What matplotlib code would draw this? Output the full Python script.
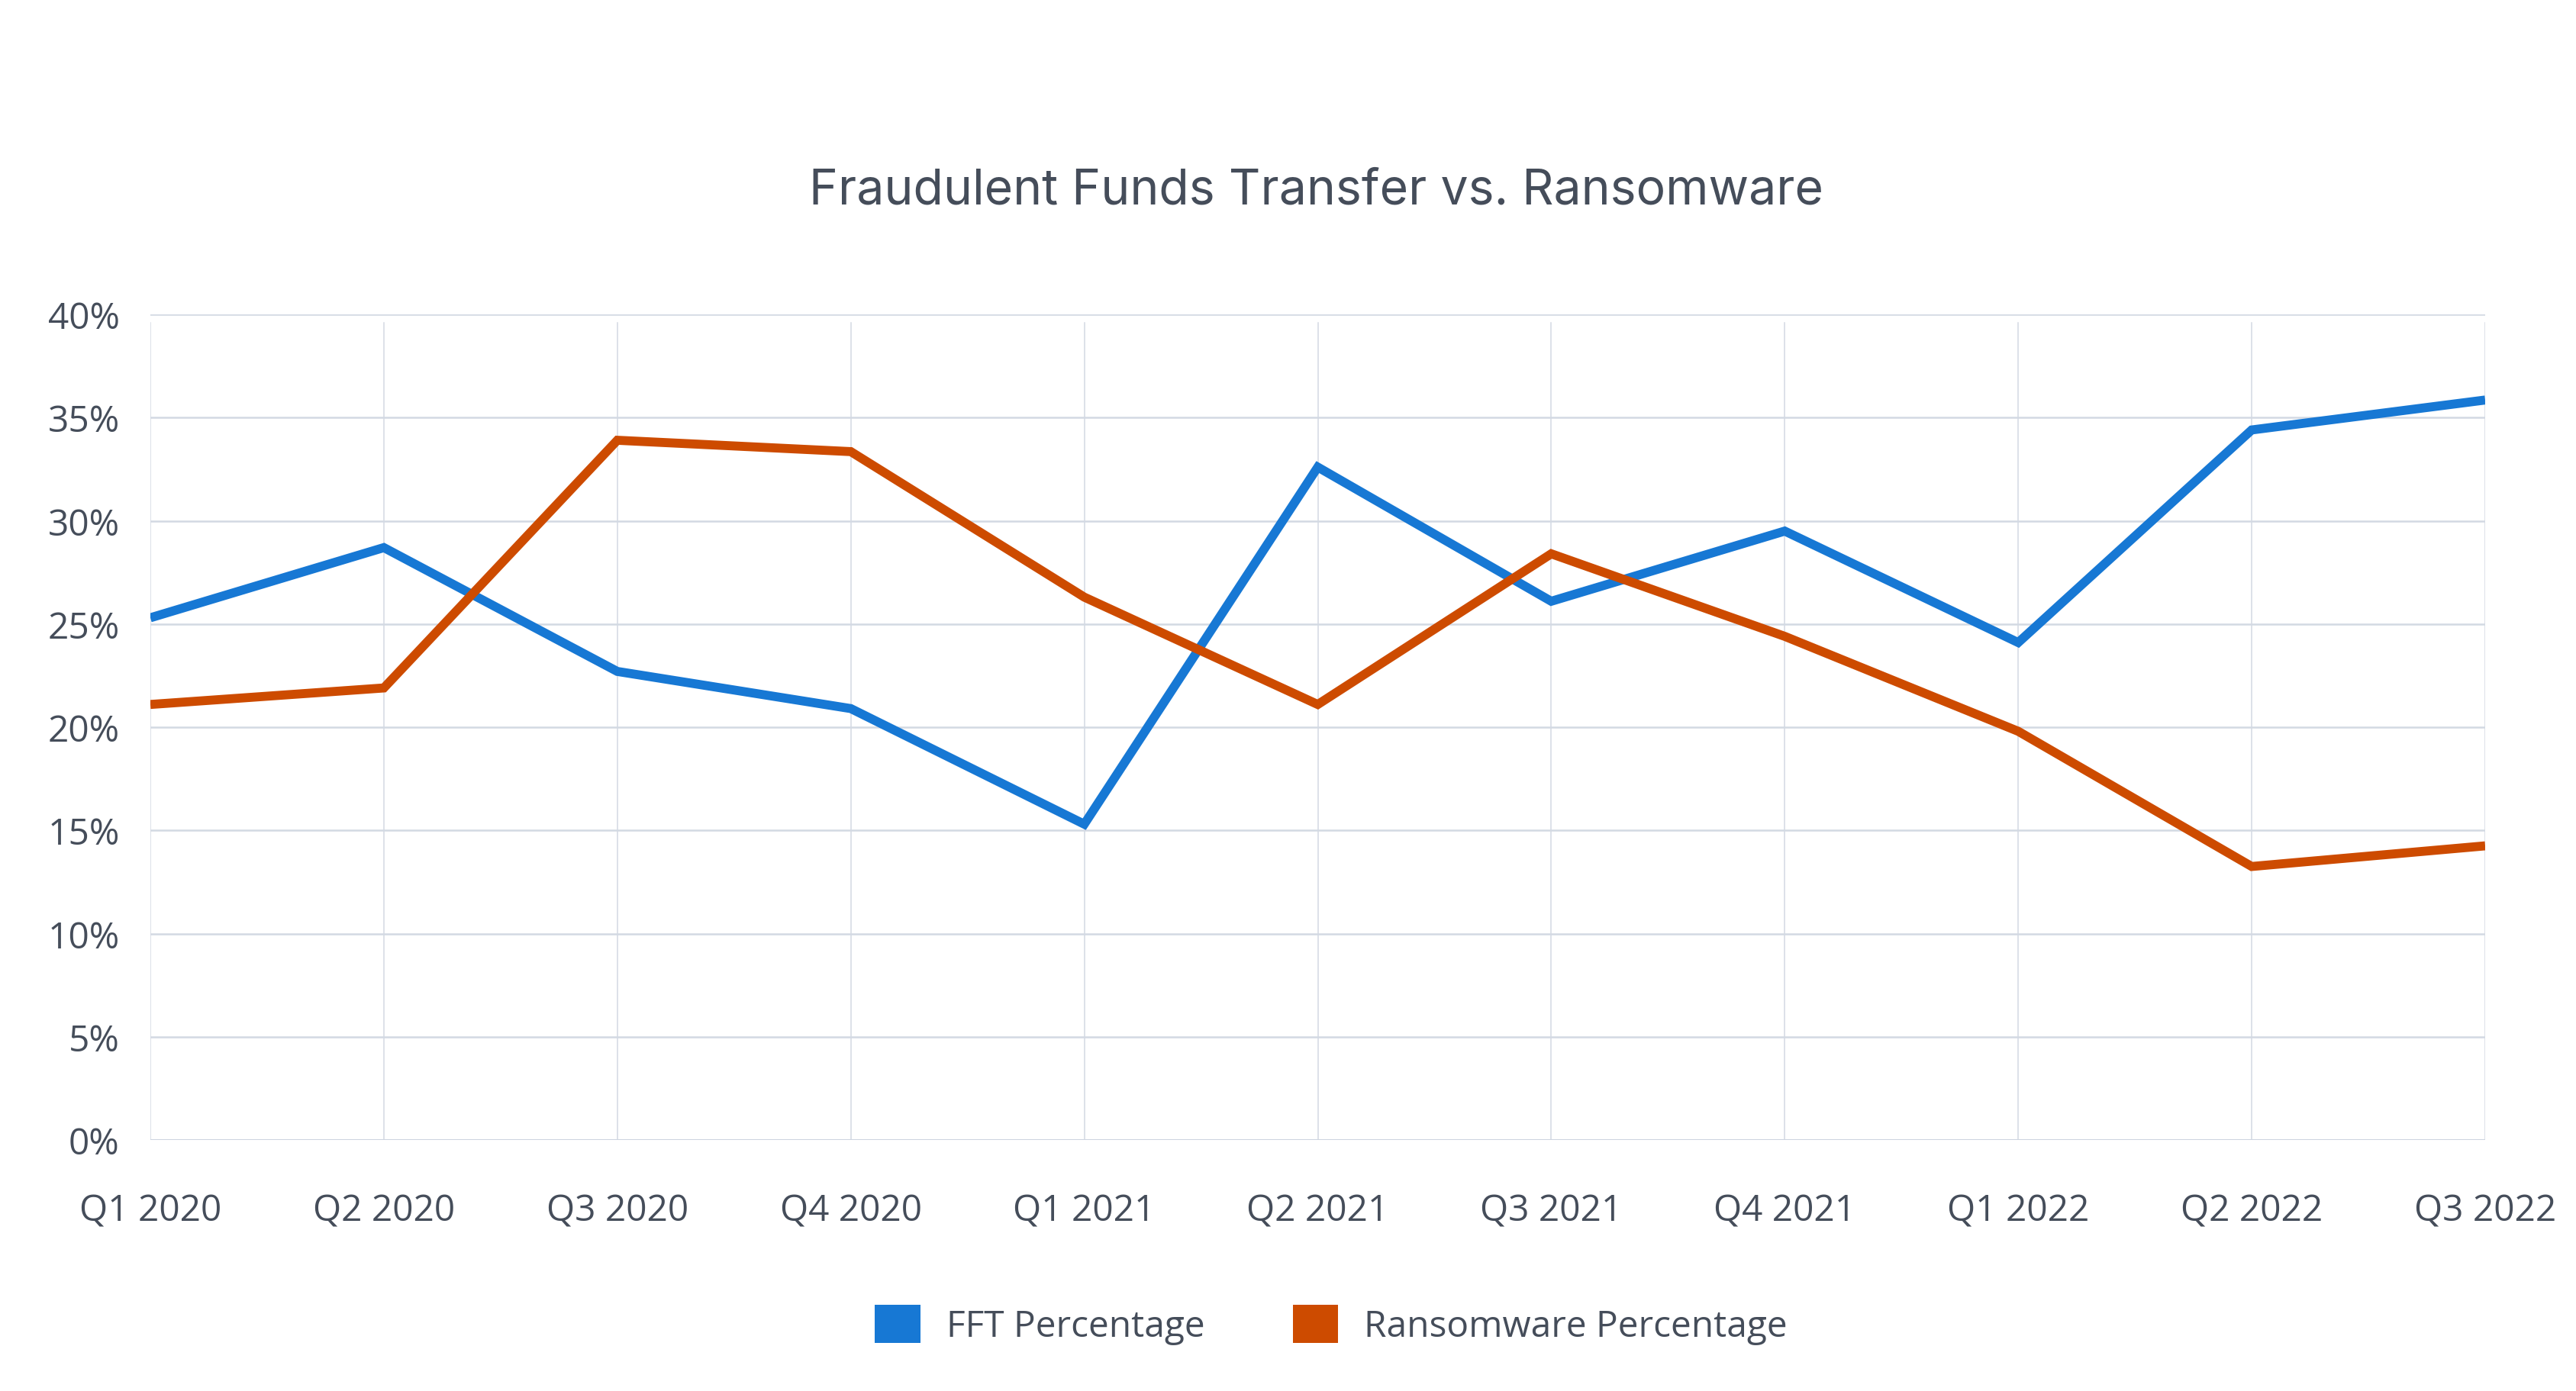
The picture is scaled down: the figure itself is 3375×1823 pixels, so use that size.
import numpy as np
import matplotlib
matplotlib.use("Agg")
import matplotlib.pyplot as plt
from matplotlib.patches import Patch
from matplotlib.ticker import FuncFormatter, MultipleLocator

quarters = ["Q1 2020", "Q2 2020", "Q3 2020", "Q4 2020", "Q1 2021", "Q2 2021",
            "Q3 2021", "Q4 2021", "Q1 2022", "Q2 2022", "Q3 2022"]
fft_pct = [25.3, 28.7, 22.7, 20.9, 15.3, 32.6, 26.1, 29.5, 24.1, 34.4, 35.85]
ransom_pct = [21.1, 21.9, 33.9, 33.35, 26.3, 21.1, 28.4, 24.4, 19.8, 13.25, 14.25]

blue = "#1778d4"
orange = "#cd4b00"
grid_col = "#d3d9e3"
text_col = "#454d5a"

fig = plt.figure(figsize=(33.75, 18.24), dpi=100)
ax = fig.add_axes([197 / 3375, 1 - 1495 / 1824, (3256 - 197) / 3375, (1495 - 413) / 1824])

x = np.arange(len(quarters))
ax.plot(x, fft_pct, color=blue, lw=8.5, solid_capstyle="butt", solid_joinstyle="miter", zorder=3)
ax.plot(x, ransom_pct, color=orange, lw=8.5, solid_capstyle="butt", solid_joinstyle="miter", zorder=4)

ax.set_xlim(0, len(quarters) - 1)
ax.set_ylim(0, 40)
ax.set_xticks(x)
ax.set_xticklabels(quarters)
ax.yaxis.set_major_locator(MultipleLocator(5))
ax.yaxis.set_major_formatter(FuncFormatter(lambda v, p: f"{v:.0f}%"))

# light grid, vertical lines stop just above the base line
for v in np.arange(5, 41, 5):
    ax.axhline(v, color=grid_col, lw=1.8, zorder=1)
for xi in x:
    ax.axvline(xi, color=grid_col, lw=1.1, ymax=0.99, zorder=1)
ax.axhline(0, color="#cdd4e0", lw=2.2, zorder=2)

for s in ax.spines.values():
    s.set_visible(False)

ax.tick_params(axis="both", length=0, labelsize=34.5, labelcolor=text_col)
ax.tick_params(axis="y", pad=29)
ax.tick_params(axis="x", pad=50)
for lab in ax.get_xticklabels() + ax.get_yticklabels():
    lab.set_fontfamily("Open Sans")

fig.text(1724 / 3375, 1 - 268 / 1824, "Fraudulent Funds Transfer vs. Ransomware",
         ha="center", va="baseline", fontsize=46.3, color=text_col, fontfamily="Inter")

handles = [Patch(facecolor=blue, edgecolor="none"), Patch(facecolor=orange, edgecolor="none")]
leg = fig.legend(handles, ["FFT Percentage", "Ransomware Percentage"], loc="center",
                 bbox_to_anchor=(1744 / 3375, 1 - 1737 / 1824), ncol=2, frameon=False,
                 prop={"family": "Open Sans", "size": 34.5}, handlelength=1.25,
                 handleheight=1.25, handletextpad=0.7, columnspacing=2.4)
for t in leg.get_texts():
    t.set_color(text_col)

fig.savefig("out.png", dpi=100, facecolor="white")
